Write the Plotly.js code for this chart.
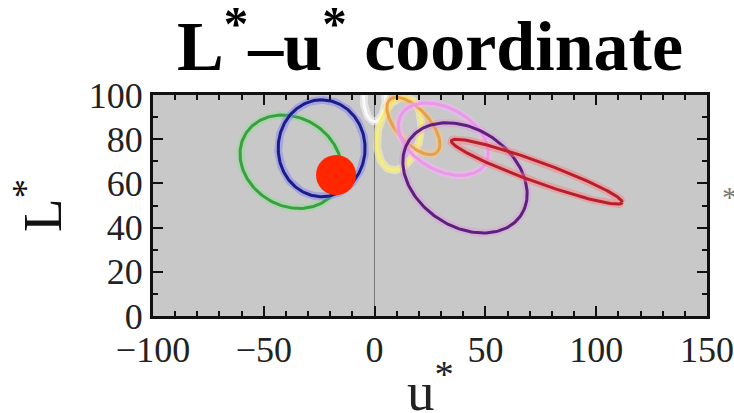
<!DOCTYPE html>
<html>
<head>
<meta charset="utf-8">
<script src="https://cdn.plot.ly/plotly-3.0.1.min.js"></script>
<style>html,body{margin:0;padding:0;background:#fff;}#chart{width:734px;height:413px;}</style>
</head>
<body>
<div id="chart"></div>
<script>
// Ellipse parameters (u*, L* units)
const groupNames = ['white', 'green', 'blue', 'yellow', 'orange', 'pink', 'purple', 'red'];
const centerU   = [0.0, -37.8, -23.9, 11.1, 17.5, 31.0, 40.8, 73.2];
const centerL   = [99.0, 69.8, 75.9, 82.5, 86.0, 80.0, 62.5, 65.3];
const semiMajor = [11.0, 24.0, 21.9, 16.8, 16.0, 22.0, 30.4, 41.0];
const semiMinor = [5.0, 19.9, 19.6, 9.6, 7.5, 14.0, 22.0, 4.6];
const tiltDeg   = [90, -32, 90, 78, -48.6, -30, -34, -20];
const lineColors = ['rgb(250,250,250)', 'rgb(55,160,65)', 'rgb(28,28,135)', 'rgb(245,238,120)',
                    'rgb(228,160,75)', 'rgb(236,150,236)', 'rgb(92,32,125)', 'rgb(185,30,45)'];
const glowColors = ['rgba(255,255,255,0.5)', 'rgba(140,225,140,0.45)', 'rgba(120,120,255,0.45)', 'rgba(255,250,170,0.5)',
                    'rgba(255,200,120,0.45)', 'rgba(250,180,250,0.45)', 'rgba(230,140,230,0.35)', 'rgba(255,120,120,0.45)'];

// Marked point
const dotU = [-17.4];
const dotL = [63.8];

// Axes
const uTicks = [-100, -50, 0, 50, 100, 150];
const lTicks = [0, 20, 40, 60, 80, 100];
const xTitle = 'u<sup>*</sup>';
const yTitle = 'L<sup>*</sup>';

function ellipsePoints(i) {
  const xs = [], ys = [];
  const th = tiltDeg[i] * Math.PI / 180;
  for (let k = 0; k <= 180; k++) {
    const t = 2 * Math.PI * k / 180;
    const ex = semiMajor[i] * Math.cos(t), ey = semiMinor[i] * Math.sin(t);
    xs.push(centerU[i] + ex * Math.cos(th) - ey * Math.sin(th));
    ys.push(centerL[i] + ex * Math.sin(th) + ey * Math.cos(th));
  }
  return {xs, ys};
}

const traces = [];
groupNames.forEach((n, i) => {
  const p = ellipsePoints(i);
  traces.push({x: p.xs, y: p.ys, mode: 'lines', type: 'scatter', name: n + ' glow',
    line: {color: glowColors[i], width: 8}, hoverinfo: 'skip', showlegend: false});
  traces.push({x: p.xs, y: p.ys, mode: 'lines', type: 'scatter', name: n,
    line: {color: lineColors[i], width: 3}, showlegend: false});
});
traces.push({x: dotU, y: dotL, mode: 'markers', type: 'scatter', name: 'point',
  marker: {color: 'rgb(255,38,0)', size: 40, line: {width: 0}}, showlegend: false});

const serif = 'Liberation Serif, Times New Roman, serif';
const layout = {
  width: 734, height: 413,
  margin: {l: 153, r: 27, t: 95, b: 97},
  paper_bgcolor: '#ffffff',
  plot_bgcolor: 'rgb(200,200,200)',
  showlegend: false,
  title: {
    text: 'L<sup>*</sup>–u<sup>*</sup> coordinate',
    font: {family: serif, size: 70, color: '#000', weight: 'bold'},
    x: 0.5, xref: 'paper', xanchor: 'center',
    y: 0.95, yref: 'container', yanchor: 'top'
  },
  xaxis: {
    range: [-100, 150], tickvals: uTicks, ticktext: uTicks.map(v => v < 0 ? '−' + Math.abs(v) : String(v)),
    ticks: 'inside', ticklen: 10, tickwidth: 2, tickcolor: '#111',
    minor: {ticks: 'inside', dtick: 10, ticklen: 5, tickwidth: 2, tickcolor: '#111'},
    showline: true, linecolor: '#111', linewidth: 3, mirror: 'allticks',
    showgrid: false, zeroline: true, zerolinecolor: 'rgb(120,120,120)', zerolinewidth: 1,
    tickfont: {family: serif, size: 36, color: '#222'},
    fixedrange: true
  },
  yaxis: {
    range: [0, 100], tickvals: lTicks,
    ticks: 'inside', ticklen: 10, tickwidth: 2, tickcolor: '#111',
    minor: {ticks: 'inside', dtick: 10, ticklen: 5, tickwidth: 2, tickcolor: '#111'},
    showline: true, linecolor: '#111', linewidth: 3, mirror: 'allticks',
    showgrid: false, zeroline: false,
    tickfont: {family: serif, size: 36, color: '#222'},
    title: {text: yTitle, font: {family: serif, size: 55, color: '#111'}, standoff: 10},
    fixedrange: true
  },
  annotations: [
    {text: xTitle, xref: 'paper', yref: 'paper', x: 0.5, xanchor: 'center', y: -0.322, yanchor: 'middle',
     showarrow: false, font: {family: serif, size: 55, color: '#222'}},
    {text: '*', xref: 'paper', yref: 'paper', x: 1.04, xanchor: 'center', y: 0.624, yanchor: 'top',
     showarrow: false, font: {family: serif, size: 30, color: '#777'}}
  ]
};

Plotly.newPlot('chart', traces, layout, {displayModeBar: false, staticPlot: true});
</script>
</body>
</html>
